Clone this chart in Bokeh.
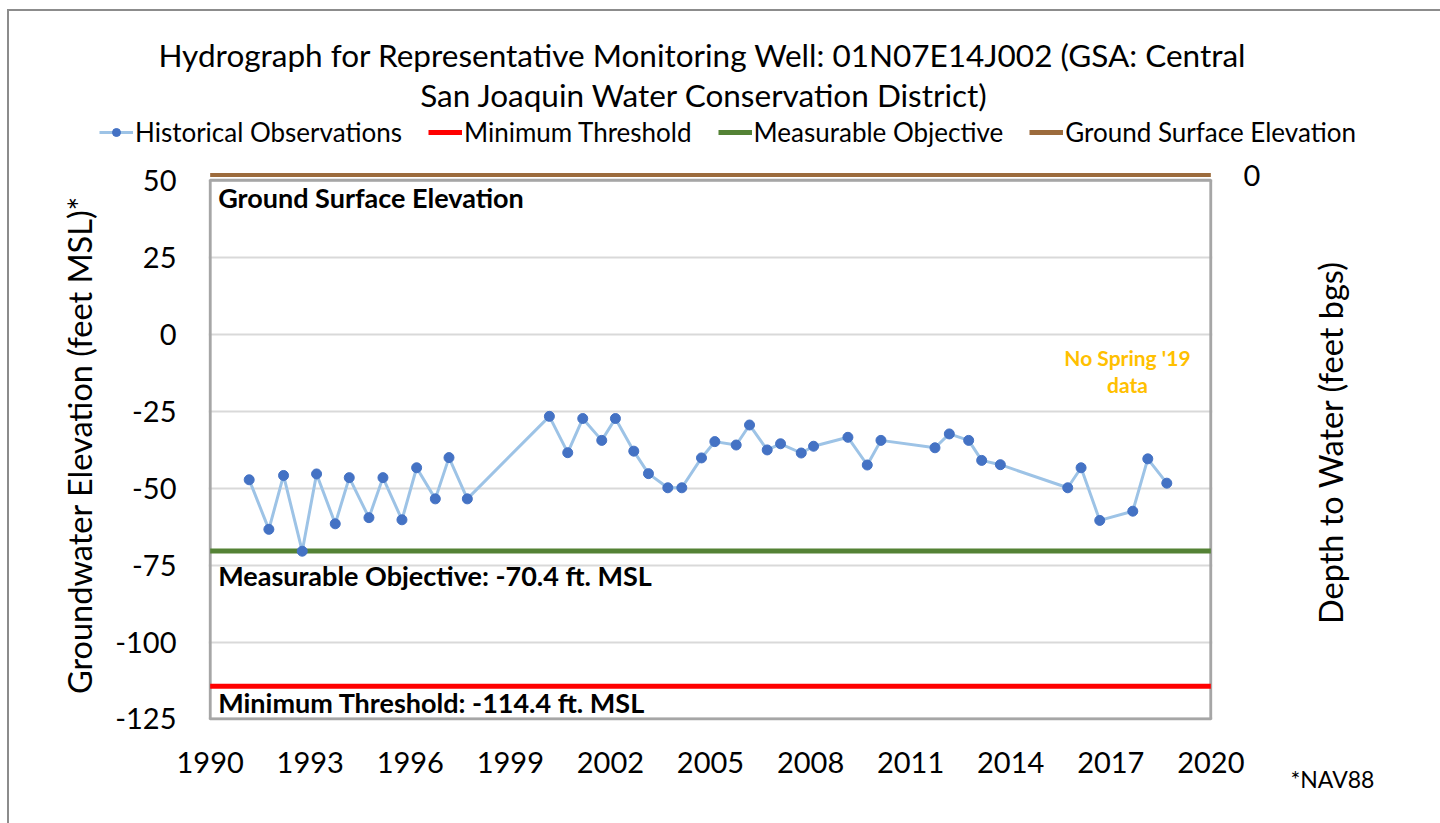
import math
from bokeh.plotting import figure
from bokeh.layouts import column, row
from bokeh.models import Range1d, LinearAxis, FixedTicker, Legend, LegendItem, Label
from bokeh.embed import file_html
from bokeh.resources import INLINE

# ---------------- data ----------------
obs_year = [1991.17, 1991.76, 1992.20, 1992.76, 1993.19, 1993.75, 1994.17, 1994.76,
            1995.18, 1995.75, 1996.19, 1996.75, 1997.16, 1997.71, 2000.17, 2000.72,
            2001.17, 2001.74, 2002.15, 2002.70, 2003.14, 2003.72, 2004.14, 2004.73,
            2005.13, 2005.77, 2006.17, 2006.70, 2007.10, 2007.72, 2008.09, 2009.12,
            2009.70, 2010.11, 2011.73, 2012.16, 2012.74, 2013.13, 2013.69, 2015.71,
            2016.11, 2016.67, 2017.66, 2018.11, 2018.68]
obs_elev = [-47.3, -63.4, -45.9, -70.5, -45.4, -61.6, -46.6, -59.6,
            -46.6, -60.3, -43.4, -53.5, -40.1, -53.5, -26.7, -38.5,
            -27.4, -34.5, -27.4, -38.0, -45.3, -49.9, -49.9, -40.2,
            -34.9, -36.0, -29.5, -37.6, -35.6, -38.6, -36.4, -33.5,
            -42.5, -34.5, -36.9, -32.4, -34.5, -41.0, -42.4, -49.9,
            -43.4, -60.5, -57.5, -40.5, -48.4]

minimum_threshold = -114.4
measurable_objective = -70.4
ground_surface = 51.7

x_ticks = [1990, 1993, 1996, 1999, 2002, 2005, 2008, 2011, 2014, 2017, 2020]
y_ticks = [-125, -100, -75, -50, -25, 0, 25, 50]
depth_ticks = [0]

title_line1 = "Hydrograph for Representative Monitoring Well: 01N07E14J002 (GSA: Central"
title_line2 = "San Joaquin Water Conservation District)"
legend_labels = ["Historical Observations", "Minimum Threshold", "Measurable Objective", "Ground Surface Elevation"]
y_label = "Groundwater Elevation (feet MSL)*"
y2_label = "Depth to Water (feet bgs)"
note_text = "*NAV88"
mt_text = "Minimum Threshold: -114.4 ft. MSL"
mo_text = "Measurable Objective: -70.4 ft. MSL"
gse_text = "Ground Surface Elevation"
nodata_lines = ["No Spring '19", "data"]
nodata_year = 2017.5
nodata_levels = [-7.6, -16.4]

# ---------------- style ----------------
FONT = "Lato"
FRAME_GRAY = "#8c8c8c"
C_OBS_LINE = "#9dc3e6"
C_OBS_DOT = "#4472c4"
C_MT = "#ff0000"
C_MO = "#548235"
C_GS = "#9c6b3c"

W, H = 1440, 823
HEAD_H = 150
MAIN_W = 1290
BODY_H = H - HEAD_H
SIDE_W = W - MAIN_W

x0, x1 = x_ticks[0], x_ticks[-1]
y0, y1 = y_ticks[0], y_ticks[-1]
xs = [x0, x1]


def bare(fig):
    fig.axis.visible = False
    fig.grid.visible = False
    fig.outline_line_color = None
    fig.background_fill_color = None
    fig.border_fill_color = None
    fig.min_border = 0
    fig.min_border_left = 0
    fig.min_border_right = 0
    fig.min_border_top = 0
    fig.min_border_bottom = 0
    fig.frame_align = False


# ---------------- header: title + legend ----------------
head = figure(width=W, height=HEAD_H, x_range=Range1d(0, W), y_range=Range1d(0, HEAD_H),
              output_backend="svg", toolbar_location=None, title=None)
bare(head)
head.styles = {"background": (f"linear-gradient({FRAME_GRAY},{FRAME_GRAY}) 7px 9px / 2px 100% no-repeat, "
                              f"linear-gradient({FRAME_GRAY},{FRAME_GRAY}) 7px 9px / 100% 2px no-repeat, white")}
head.add_layout(Label(x=702, y=HEAD_H - 54, text=title_line1, text_font=FONT, text_font_size="31.5px",
                      text_color="black", text_align="center", text_baseline="middle"))
head.add_layout(Label(x=704, y=HEAD_H - 94, text=title_line2, text_font=FONT, text_font_size="31.5px",
                      text_color="black", text_align="center", text_baseline="middle"))

# legend proxies: the same series, in data units that lie outside this header's view
h_ol = head.line(obs_year, obs_elev, line_color=C_OBS_LINE, line_width=3)
h_os = head.scatter(obs_year, obs_elev, size=10, fill_color=C_OBS_DOT, line_color=C_OBS_DOT)
h_mt = head.line(xs, [minimum_threshold] * 2, line_color=C_MT, line_width=5)
h_mo = head.line(xs, [measurable_objective] * 2, line_color=C_MO, line_width=5)
h_gs = head.line(xs, [ground_surface] * 2, line_color=C_GS, line_width=5)
legend = Legend(items=[
    LegendItem(label=legend_labels[0], renderers=[h_ol, h_os]),
    LegendItem(label=legend_labels[1], renderers=[h_mt]),
    LegendItem(label=legend_labels[2], renderers=[h_mo]),
    LegendItem(label=legend_labels[3], renderers=[h_gs]),
], orientation="horizontal", location=(99, 2),
    label_text_font=FONT, label_text_font_size="26px", label_text_color="black",
    glyph_width=34, glyph_height=20, spacing=26, label_standoff=2,
    border_line_color=None, background_fill_alpha=0, padding=0, margin=0)
head.add_layout(legend, "center")

# ---------------- main plot ----------------
p = figure(width=MAIN_W, height=BODY_H,
           x_range=Range1d(x0 - 0.05, x1 + 0.05),
           y_range=Range1d(y0 - 0.5, y1 + 3.5),
           output_backend="svg", toolbar_location=None, title=None,
           min_border_left=208, min_border_right=MAIN_W - 208 - 1004,
           min_border_top=19, min_border_bottom=BODY_H - 19 - 551)
p.frame_align = False
p.outline_line_color = None
p.background_fill_color = "white"
p.border_fill_color = None
p.styles = {"background": f"linear-gradient({FRAME_GRAY},{FRAME_GRAY}) 7px 0px / 2px 100% no-repeat, white"}

p.xgrid.visible = False
p.ygrid.ticker = FixedTicker(ticks=y_ticks)
p.ygrid.grid_line_color = "#d9d9d9"
p.ygrid.grid_line_width = 2

for ax in [p.xaxis[0], p.yaxis[0]]:
    ax.axis_line_color = None
    ax.major_tick_line_color = None
    ax.minor_tick_line_color = None
    ax.major_label_text_font = FONT
    ax.major_label_text_font_size = "29px"
    ax.major_label_text_color = "black"
p.xaxis.ticker = FixedTicker(ticks=x_ticks)
p.yaxis.ticker = FixedTicker(ticks=y_ticks)
p.yaxis.major_label_overrides = {t: str(t) for t in y_ticks}
p.xaxis.major_label_overrides = {t: str(t) for t in x_ticks}
p.xaxis.major_label_standoff = 25
p.yaxis.major_label_standoff = 26
p.yaxis.axis_label = y_label
p.yaxis.axis_label_text_font = FONT
p.yaxis.axis_label_text_font_size = "32.5px"
p.yaxis.axis_label_text_font_style = "normal"
p.yaxis.axis_label_text_color = "black"
p.yaxis.axis_label_standoff = 13

p.extra_y_ranges = {"depth": Range1d(start=ground_surface - (y0 - 0.5), end=ground_surface - (y1 + 3.5))}
ax2 = LinearAxis(y_range_name="depth", ticker=FixedTicker(ticks=depth_ticks))
ax2.axis_line_color = None
ax2.major_tick_line_color = None
ax2.minor_tick_line_color = None
ax2.major_label_text_font = FONT
ax2.major_label_text_font_size = "29px"
ax2.major_label_text_color = "black"
ax2.major_label_standoff = 25
ax2.major_label_overrides = {t: str(t) for t in depth_ticks}
p.add_layout(ax2, "right")

# plot-area border
p.quad(left=[x0], right=[x1], bottom=[y0], top=[y1], fill_color=None,
       line_color="#a6a6a6", line_width=3)

p.line(xs, [measurable_objective] * 2, line_color=C_MO, line_width=5)
p.line(xs, [minimum_threshold] * 2, line_color=C_MT, line_width=5)
p.line(xs, [ground_surface] * 2, line_color=C_GS, line_width=4)
p.line(obs_year, obs_elev, line_color=C_OBS_LINE, line_width=3)
p.scatter(obs_year, obs_elev, size=10, fill_color=C_OBS_DOT, line_color=C_OBS_DOT)

p.add_layout(Label(x=x0, y=ground_surface, x_offset=8, y_offset=-22, text=gse_text,
                   text_font=FONT, text_font_size="27px", text_font_style="bold",
                   text_color="black", text_baseline="middle"))
p.add_layout(Label(x=x0, y=measurable_objective, x_offset=8, y_offset=-25, text=mo_text,
                   text_font=FONT, text_font_size="27px", text_font_style="bold",
                   text_color="black", text_baseline="middle"))
p.add_layout(Label(x=x0, y=minimum_threshold, x_offset=8, y_offset=-16, text=mt_text,
                   text_font=FONT, text_font_size="27px", text_font_style="bold",
                   text_color="black", text_baseline="middle"))
for txt, lev in zip(nodata_lines, nodata_levels):
    p.add_layout(Label(x=nodata_year, y=lev, text=txt, text_font=FONT,
                       text_font_size="21px", text_font_style="bold", text_color="#ffc000",
                       text_align="center", text_baseline="middle"))

# ---------------- right side: depth axis title + datum note ----------------
side = figure(width=SIDE_W, height=BODY_H, x_range=Range1d(0, SIDE_W), y_range=Range1d(0, BODY_H),
              output_backend="svg", toolbar_location=None, title=None)
bare(side)
side.background_fill_color = "white"
side.add_layout(Label(x=40, y=BODY_H - 292, text=y2_label, angle=math.pi / 2,
                      text_font=FONT, text_font_size="32.5px", text_color="black",
                      text_align="center", text_baseline="middle"))
side.add_layout(Label(x=0, y=BODY_H - 628, text=note_text, text_font=FONT,
                      text_font_size="23px", text_color="black",
                      text_align="left", text_baseline="middle"))

layout = column(head, row(p, side, spacing=0), spacing=0)
open("out.html", "w").write(file_html(layout, INLINE))
